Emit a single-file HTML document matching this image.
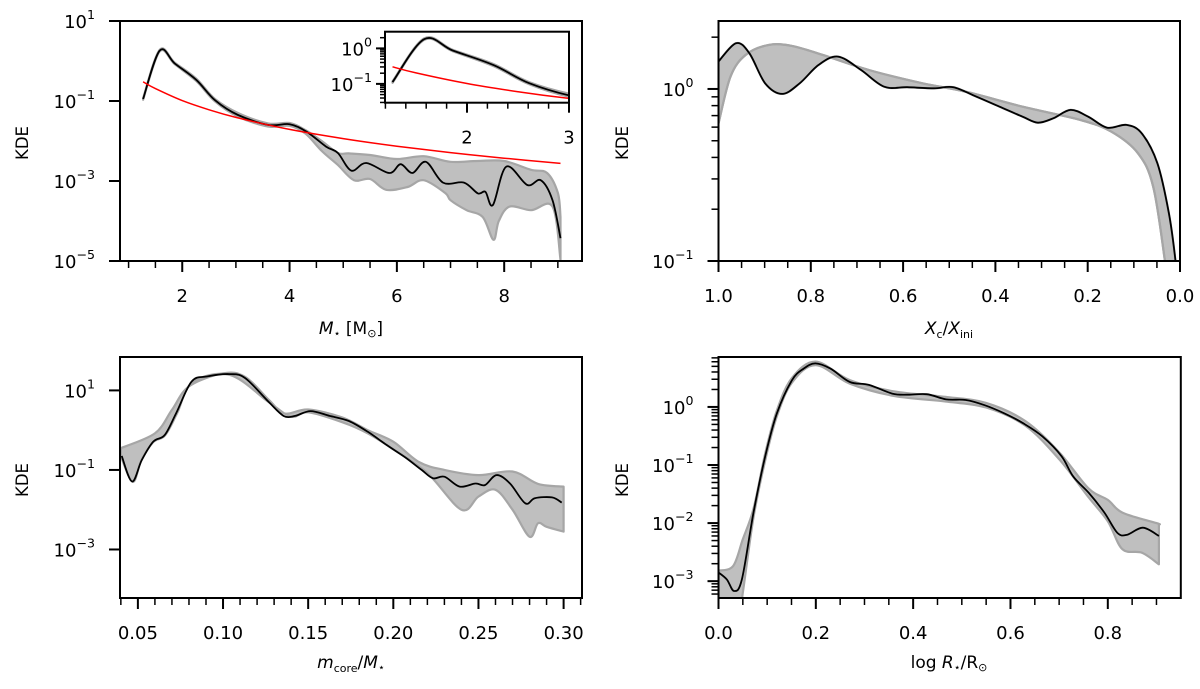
<!DOCTYPE html>
<html><head><meta charset="utf-8"><style>
body{margin:0;background:#fff}
svg{display:block;font-family:"DejaVu Sans","Liberation Sans",sans-serif}
</style></head><body>
<svg id="fig" width="1200" height="689" viewBox="0 0 1200 689" xmlns="http://www.w3.org/2000/svg">
<defs>
<clipPath id="c1"><rect x="120" y="21" width="462" height="240"/></clipPath>
<clipPath id="c1i"><rect x="385" y="31.7" width="184" height="71"/></clipPath>
<clipPath id="c2"><rect x="718.5" y="21" width="462" height="240"/></clipPath>
<clipPath id="c3"><rect x="120" y="357" width="462" height="241"/></clipPath>
<clipPath id="c4"><rect x="718.5" y="357" width="462" height="241"/></clipPath>
</defs>
<g id="root"></g>
<text x="22" y="143" font-size="16.5" text-anchor="middle" transform="rotate(-90 22 143)" dy="6">KDE</text>
<text x="622" y="143" font-size="16.5" text-anchor="middle" transform="rotate(-90 622 143)" dy="6">KDE</text>
<text x="22" y="480" font-size="16.5" text-anchor="middle" transform="rotate(-90 22 480)" dy="6">KDE</text>
<text x="622" y="480" font-size="16.5" text-anchor="middle" transform="rotate(-90 622 480)" dy="6">KDE</text>
<text x="351" y="334" font-size="17" text-anchor="middle"><tspan font-style="italic">M</tspan><tspan font-size="11" dy="3">⋆</tspan><tspan dy="-3"> [M</tspan><tspan font-size="11" dy="3">⊙</tspan><tspan dy="-3">]</tspan></text>
<text x="949" y="334" font-size="17" text-anchor="middle"><tspan font-style="italic">X</tspan><tspan font-size="11" dy="4">c</tspan><tspan dy="-4">/</tspan><tspan font-style="italic">X</tspan><tspan font-size="11" dy="4">ini</tspan></text>
<text x="351" y="668" font-size="17" text-anchor="middle"><tspan font-style="italic">m</tspan><tspan font-size="11" dy="4">core</tspan><tspan dy="-4">/</tspan><tspan font-style="italic">M</tspan><tspan font-size="11" dy="3">⋆</tspan></text>
<text x="949" y="668" font-size="17" text-anchor="middle">log<tspan font-style="italic"> R</tspan><tspan font-size="11" dy="3">⋆</tspan><tspan dy="-3">/R</tspan><tspan font-size="11" dy="3">⊙</tspan></text>
</svg>
<script>
// ---- data (values are log10 of KDE) ----
const massX   = [1.27,1.58,1.86,2.26,2.61,3.04,3.61,4.0,4.32,4.68,4.9,5.15,5.43,5.86,6.07,6.29,6.54,6.86,7.25,7.51,7.65,7.79,8.04,8.43,8.68,8.9,9.05];
const massMid = [-0.95,0.26,-0.06,-0.47,-0.98,-1.35,-1.6,-1.58,-1.77,-2.14,-2.3,-2.74,-2.55,-2.8,-2.58,-2.8,-2.52,-3.04,-3.04,-3.31,-3.27,-3.6,-2.64,-3.1,-2.98,-3.48,-4.43];
const massHiX = [1.27,1.58,1.86,2.26,2.61,3.04,3.6,4.0,4.3,4.6,4.9,5.1,5.5,6.0,6.5,7.0,7.5,8.0,8.5,8.8,9.0,9.05];
const massHi  = [-0.93,0.28,-0.04,-0.44,-0.95,-1.3,-1.56,-1.55,-1.73,-2.0,-2.3,-2.31,-2.35,-2.45,-2.38,-2.52,-2.5,-2.5,-2.72,-2.8,-3.3,-3.9];
const massLoX = [1.27,1.58,1.86,2.26,2.61,3.04,3.6,4.0,4.3,4.6,4.9,5.2,5.5,5.8,6.2,6.5,6.9,7.0,7.3,7.6,7.8,7.9,8.1,8.5,8.9,9.05];
const massLo  = [-0.97,0.24,-0.08,-0.5,-1.01,-1.39,-1.64,-1.62,-1.82,-2.25,-2.6,-2.98,-2.95,-3.22,-3.15,-2.98,-3.3,-3.48,-3.73,-3.9,-4.47,-4.0,-3.64,-3.73,-3.64,-4.97];
const imfX    = [1.27,1.5,2,2.5,3,4,5,6,7,8,9.05];
const imfY    = [-0.52,-0.69,-0.99,-1.22,-1.41,-1.71,-1.94,-2.13,-2.29,-2.43,-2.56];

const xcX     = [1.0,0.962,0.933,0.899,0.862,0.824,0.783,0.741,0.691,0.641,0.591,0.533,0.491,0.441,0.391,0.341,0.308,0.274,0.237,0.199,0.158,0.116,0.083,0.049,0.024,0.01,0.0];
const xcMid   = [0.159,0.266,0.207,0.033,-0.029,0.033,0.14,0.188,0.11,0.013,0.01,0.004,0.01,-0.045,-0.103,-0.161,-0.196,-0.17,-0.122,-0.161,-0.225,-0.209,-0.258,-0.432,-0.723,-0.994,-1.3];
const xcRefX  = [1.0,0.974,0.941,0.891,0.841,0.774,0.674,0.558,0.466,0.341,0.216,0.149,0.091,0.058,0.033,0.02];
const xcRef   = [-0.2,0.072,0.198,0.256,0.25,0.198,0.11,0.033,-0.015,-0.103,-0.18,-0.248,-0.374,-0.568,-0.994,-1.3];

const mcX     = [0.0405,0.0466,0.0523,0.059,0.0658,0.0725,0.0815,0.0905,0.104,0.113,0.1266,0.1356,0.1423,0.1514,0.1626,0.1739,0.185,0.196,0.2075,0.2166,0.2233,0.23,0.239,0.2482,0.2538,0.2606,0.2685,0.2775,0.2831,0.2932,0.2989];
const mcMid   = [-0.648,-1.29,-0.75,-0.29,-0.12,0.43,1.22,1.35,1.41,1.31,0.72,0.36,0.36,0.48,0.36,0.23,-0.04,-0.37,-0.7,-1.0,-1.21,-1.17,-1.42,-1.34,-1.38,-1.13,-1.34,-1.84,-1.71,-1.69,-1.82];
const mcHiX   = [0.04,0.06,0.07,0.08,0.1,0.113,0.127,0.136,0.15,0.17,0.185,0.2,0.215,0.23,0.25,0.27,0.285,0.3];
const mcHi    = [-0.45,-0.08,0.51,1.1,1.43,1.34,0.76,0.42,0.52,0.32,0.0,-0.29,-0.8,-1.0,-1.13,-1.04,-1.35,-1.42];
const mcLoX   = [0.04,0.047,0.052,0.059,0.066,0.073,0.082,0.104,0.127,0.14,0.15,0.17,0.185,0.2,0.22,0.24,0.25,0.26,0.27,0.28,0.285,0.29,0.3];
const mcLo    = [-0.66,-1.3,-0.76,-0.3,-0.13,0.42,1.2,1.39,0.7,0.34,0.45,0.2,-0.08,-0.48,-1.08,-2.0,-1.67,-1.5,-2.0,-2.68,-2.34,-2.43,-2.55];

const rX      = [0.0,0.017,0.032,0.048,0.072,0.096,0.12,0.151,0.175,0.199,0.23,0.27,0.309,0.357,0.389,0.428,0.468,0.508,0.547,0.587,0.626,0.666,0.705,0.729,0.761,0.793,0.82,0.84,0.872,0.905];
const rMid    = [-2.85,-2.97,-3.17,-2.97,-1.82,-0.85,-0.11,0.46,0.66,0.75,0.66,0.43,0.38,0.23,0.21,0.22,0.13,0.12,0.03,-0.11,-0.28,-0.51,-0.85,-1.2,-1.48,-1.82,-2.17,-2.2,-2.08,-2.22];
const rHiX    = [0,0.03,0.05,0.072,0.096,0.12,0.151,0.2,0.27,0.36,0.47,0.55,0.63,0.7,0.76,0.8,0.83,0.9,0.905];
const rHi     = [-2.82,-2.74,-2.28,-1.75,-0.8,-0.06,0.5,0.78,0.46,0.27,0.17,0.07,-0.24,-0.78,-1.4,-1.6,-1.82,-2.0,-2.02];
const rLoX    = [0,0.045,0.05,0.072,0.096,0.12,0.151,0.2,0.27,0.36,0.47,0.55,0.63,0.7,0.76,0.8,0.83,0.87,0.905];
const rLo     = [-3.4,-3.4,-3.2,-1.9,-0.92,-0.16,0.42,0.72,0.4,0.19,0.09,-0.01,-0.32,-0.9,-1.55,-1.97,-2.45,-2.51,-2.71];

// ---- drawing ----
const NS='http://www.w3.org/2000/svg';
const root=document.getElementById('root');
function el(tag,attrs,parent){const e=document.createElementNS(NS,tag);for(const k in attrs)e.setAttribute(k,attrs[k]);(parent||root).appendChild(e);return e;}
function axes(L,R,T,B,x0,x1,y0,y1){return{sx:v=>L+(v-x0)/(x1-x0)*(R-L),sy:v=>B-(v-y0)/(y1-y0)*(B-T),L,R,T,B};}
function pxy(a,xs,ys){return xs.map((x,i)=>[a.sx(x),a.sy(ys[i])]);}
function smooth(p,move){
  let d=(move?'M':'L')+p[0][0].toFixed(1)+','+p[0][1].toFixed(1);
  for(let i=0;i<p.length-1;i++){
    const p0=p[Math.max(0,i-1)],p1=p[i],p2=p[i+1],p3=p[Math.min(p.length-1,i+2)];
    const c1=[p1[0]+(p2[0]-p0[0])/6,p1[1]+(p2[1]-p0[1])/6];
    const c2=[p2[0]-(p3[0]-p1[0])/6,p2[1]-(p3[1]-p1[1])/6];
    d+='C'+c1[0].toFixed(1)+','+c1[1].toFixed(1)+' '+c2[0].toFixed(1)+','+c2[1].toFixed(1)+' '+p2[0].toFixed(1)+','+p2[1].toFixed(1);
  }
  return d;
}
function band(a,hx,hy,lx,ly,clip,name){
  const d=smooth(pxy(a,hx,hy),true)+smooth(pxy(a,lx,ly).reverse(),false)+'Z';
  const e=el('path',{d:d,fill:'#bfbfbf',stroke:'#a6a6a6','stroke-width':2.2,'stroke-linejoin':'round','clip-path':'url(#'+clip+')'});
  
  
}
function line(a,xs,ys,color,w,clip,name){
  const e=el('path',{d:smooth(pxy(a,xs,ys),true),fill:'none',stroke:color,'stroke-width':w,'stroke-linejoin':'round','clip-path':'url(#'+clip+')'});
  
  
}
function frame(a,name){
  const e=el('rect',{x:a.L,y:a.T,width:a.R-a.L,height:a.B-a.T,fill:'none',stroke:'#000','stroke-width':2});
  
  
}
function xticks(a,major,labels,minor,fs,name,ml,nl){
  major.forEach((v,i)=>{const x=a.sx(v);el('line',{x1:x,x2:x,y1:a.B,y2:a.B+ml,stroke:'#000','stroke-width':2});
    const t=el('text',{x:x,y:a.B+41,'font-size':fs,'text-anchor':'middle'});t.textContent=labels[i];
    
    });
  minor.forEach(v=>{const x=a.sx(v);el('line',{x1:x,x2:x,y1:a.B,y2:a.B+nl,stroke:'#000','stroke-width':1.5});});
}
function yticks(a,major,labelExps,minor,fs,name,ml,nl,gap){
  major.forEach((v,i)=>{const y=a.sy(v);el('line',{x1:a.L,x2:a.L-ml,y1:y,y2:y,stroke:'#000','stroke-width':2});
    if(labelExps[i]!==null){const t=el('text',{x:a.L-gap,y:y+7,'font-size':fs,'text-anchor':'end'});
      t.textContent='10';const s=el('tspan',{'font-size':fs*0.7,dy:-9},t);s.textContent=labelExps[i];
      
      }});
  minor.forEach(v=>{const y=a.sy(v);el('line',{x1:a.L,x2:a.L-nl,y1:y,y2:y,stroke:'#000','stroke-width':1.5});});
}
function logMinors(d0,d1){const r=[];for(let d=d0;d<d1;d++)for(let k=2;k<10;k++)r.push(d+Math.log10(k));return r;}
function range(a,b,s){const r=[];for(let v=a;v<=b+1e-9;v+=s)r.push(+v.toFixed(4));return r;}
const FS=18;

// panel 1
const a1=axes(120,582,21,261,0.84,9.45,-5,1);
band(a1,massHiX,massHi,massLoX,massLo,'c1','mass-band');
line(a1,massX,massMid,'#000',1.8,'c1','mass-kde-line');
line(a1,imfX,imfY,'#ff0000',1.5,'c1','imf-line');
frame(a1,'mass-panel-frame');
xticks(a1,[2,4,6,8],['2','4','6','8'],range(1,9,0.5).filter(v=>v%2!==0),FS,'mass-x',11,7);
yticks(a1,[1,-1,-3,-5],['1','−1','−3','−5'],[],FS,'mass-y',11,7,25);
// inset
const ai=axes(385,569,31.7,102.7,1.196,3,-1.53,0.47);
el('rect',{x:385,y:31.7,width:184,height:71,fill:'#fff'});
band(ai,massHiX,massHi,massLoX,massLo,'c1i','inset-band');
line(ai,massX,massMid,'#000',1.8,'c1i','inset-kde-line');
line(ai,imfX,imfY,'#ff0000',1.5,'c1i','inset-imf-line');
frame(ai,'inset-frame');
xticks(ai,[2,3],['2','3'],range(1.2,2.8,0.2).filter(v=>Math.abs(v-2)>0.01),FS,'inset-x',10,6);
yticks(ai,[0,-1],['0','−1'],logMinors(-2,1).filter(v=>v>-1.53&&v<0.47),FS,'inset-y',9,5,13);

// panel 2
const a2=axes(718.5,1180,21,261,1.0,0.0,-1,0.395);
band(a2,xcX,xcMid,xcRefX,xcRef,'c2','xc-band');
line(a2,xcRefX,xcRef,'#a6a6a6',2.2,'c2','xc-reference-line');
line(a2,xcX,xcMid,'#000',1.8,'c2','xc-kde-line');
frame(a2,'xc-panel-frame');
xticks(a2,[1,0.8,0.6,0.4,0.2,0],['1.0','0.8','0.6','0.4','0.2','0.0'],range(0.05,0.95,0.05).filter(v=>Math.abs(v*5-Math.round(v*5))>0.01),FS,'xc-x',11,7);
yticks(a2,[0,-1],['0','−1'],logMinors(-1,1).filter(v=>v<0.395),FS,'xc-y',11,7,25);

// panel 3
const a3=axes(120,582,357,598,0.0395,0.3108,-4.22,1.84);
band(a3,mcHiX,mcHi,mcLoX,mcLo,'c3','mcore-band');
line(a3,mcX,mcMid,'#000',1.8,'c3','mcore-kde-line');
frame(a3,'mcore-panel-frame');
xticks(a3,[0.05,0.1,0.15,0.2,0.25,0.3],['0.05','0.10','0.15','0.20','0.25','0.30'],range(0.04,0.31,0.01).filter(v=>Math.abs(v*20-Math.round(v*20))>0.01),FS,'mcore-x',11,7);
yticks(a3,[1,-1,-3],['1','−1','−3'],[],FS,'mcore-y',11,7,25);

// panel 4
const a4=axes(718.5,1180.8,357,598,0,0.95,-3.29,0.86);
band(a4,rHiX,rHi,rLoX,rLo,'c4','radius-band');
line(a4,rX,rMid,'#000',1.8,'c4','radius-kde-line');
frame(a4,'radius-panel-frame');
xticks(a4,[0,0.2,0.4,0.6,0.8],['0.0','0.2','0.4','0.6','0.8'],range(0.05,0.9,0.05).filter(v=>Math.abs(v*5-Math.round(v*5))>0.01),FS,'radius-x',11,7);
yticks(a4,[0,-1,-2,-3],['0','−1','−2','−3'],logMinors(-4,1).filter(v=>v>-3.29&&v<0.86),FS,'radius-y',11,7,25);
</script>
</body></html>
